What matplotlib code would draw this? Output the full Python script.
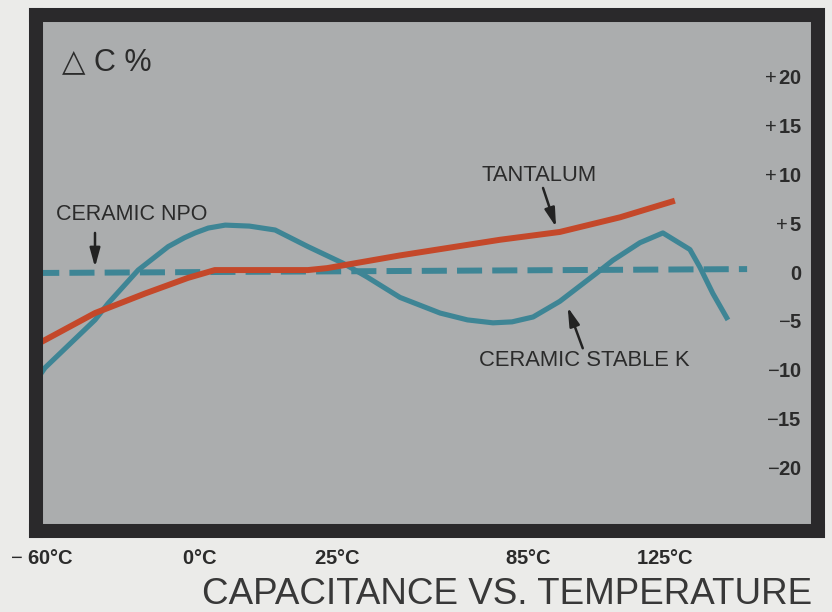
import numpy as np
import matplotlib
matplotlib.use("Agg")
import matplotlib.pyplot as plt

# ---------------- data ----------------
temp_ticks = [-60, 0, 25, 85, 125]
temp_labels = ["− $\\mathbf{60°C}$", "$\\mathbf{0°C}$", "$\\mathbf{25°C}$",
               "$\\mathbf{85°C}$", "$\\mathbf{125°C}$"]
pct_ticks = [20, 15, 10, 5, 0, -5, -10, -15, -20]
pct_labels = ["$+\\,\\mathbf{20}$", "$+\\,\\mathbf{15}$", "$+\\,\\mathbf{10}$",
              "$+\\,\\mathbf{5}$", "$\\mathbf{0}$", "−$\\mathbf{5}$", "−$\\mathbf{10}$",
              "−$\\mathbf{15}$", "−$\\mathbf{20}$"]

npo_t = [-63, 149]
npo_v = [-0.1, 0.3]

tant_t = [-64, -39.9, -20.9, -4.6, 2.7, 19.7, 23.2, 44.8, 76.2, 94.3, 111.9, 127.9]
tant_v = [-7.7, -4.2, -2.2, -0.6, 0.2, 0.2, 0.4, 1.7, 3.3, 4.1, 5.6, 7.3]

stk_t = [-61.5, -58.9, -39.9, -34.9, -23.5, -12.1, -6.0, -1.9, 1.5, 4.6, 9.0, 13.7,
         19.7, 26.9, 34.4, 44.8, 57.4, 66.0, 74.0, 80.0, 86.5, 94.3, 105.1, 109.8,
         117.7, 124.4, 132.3, 135.2, 139.0, 143.4]
stk_v = [-10.8, -9.8, -4.9, -3.2, 0.2, 2.6, 3.5, 4.0, 4.5, 4.8, 4.7, 4.3,
         2.6, 0.9, -0.5, -2.6, -4.2, -4.9, -5.2, -5.1, -4.6, -3.0, -0.1, 1.2,
         3.0, 4.0, 2.3, 0.5, -2.2, -4.9]

# piecewise temperature scale of the printed chart
scale_T = np.array([-300, -60, 0, 25, 85, 125, 400], dtype=float)
scale_P = np.array([42 - 240 * 2.633, 42, 200, 337, 528, 665, 665 + 275 * 3.425])

def fwd(t):
    return np.interp(t, scale_T, scale_P)

def inv(p):
    return np.interp(p, scale_P, scale_T)

# ---------------- style ----------------
BG = "#ebebe9"
PANEL = "#abadae"
FRAME = "#2a292b"
TEAL = "#3e8595"
RED = "#c4482a"
TXT = "#2b2b2b"
plt.rcParams['font.family'] = ['Liberation Sans', 'DejaVu Sans']
plt.rcParams['mathtext.fontset'] = 'custom'
plt.rcParams['mathtext.rm'] = 'Liberation Sans'
plt.rcParams['mathtext.bf'] = 'Liberation Sans:bold'
plt.rcParams['mathtext.it'] = 'Liberation Sans:italic'

W, H = 832, 612
fig = plt.figure(figsize=(W / 100, H / 100), dpi=100, facecolor=BG)
ax = fig.add_axes([35.5 / W, (H - 531) / H, 782.5 / W, 516 / H])
ax.set_facecolor(PANEL)
ax.set_xscale('function', functions=(fwd, inv))
ax.set_xlim(-62.5, 169.7)
ax.set_ylim(-26.5, 26.3)

for s in ax.spines.values():
    s.set_linewidth(10.1)
    s.set_color(FRAME)
    s.set_capstyle('projecting')

ax.plot(npo_t, npo_v, color=TEAL, lw=4.3, dashes=(4.2, 1.7),
        dash_capstyle='butt', zorder=1)
ax.plot(tant_t, tant_v, color=RED, lw=4.3, solid_capstyle='butt',
        solid_joinstyle='round', zorder=2)
ax.plot(stk_t, stk_v, color=TEAL, lw=3.7, solid_capstyle='butt',
        solid_joinstyle='round', zorder=1.5)

ax.set_xticks(temp_ticks)
ax.set_xticklabels(temp_labels)
ax.xaxis.set_minor_locator(matplotlib.ticker.NullLocator())
ax.tick_params(axis='x', length=0, pad=13, labelsize=14.5, labelcolor=TXT)

ax.set_yticks(pct_ticks)
ax.set_yticklabels(pct_labels)
ax.tick_params(axis='y', length=0, left=False, right=False, labelleft=False,
               labelright=True, pad=-11.5, labelsize=14.5, labelcolor=TXT)
for t in ax.yaxis.get_major_ticks():
    t.label2.set_horizontalalignment('right')

# labels
ax.text(0.034, 0.893, "△ C %", transform=ax.transAxes, fontsize=22,
        color=TXT, ha='left', va='baseline')

arrow = dict(arrowstyle='-|>,head_length=0.8,head_width=0.22', lw=1.8,
             color='#222222', shrinkA=0, shrinkB=0, mutation_scale=14)
ax.text(-25.8, 5.84, "CERAMIC NPO", fontsize=15.5, color=TXT, ha='center', va='center')
ax.annotate("", xy=(-39.9, 0.5), xytext=(-39.9, 4.0), arrowprops=arrow)

ax.text(88.2, 9.84, "TANTALUM", fontsize=15.8, color=TXT, ha='center', va='center')
ax.annotate("", xy=(93.2, 4.6), xytext=(89.4, 8.6), arrowprops=arrow)

ax.text(101.6, -9.1, "CERAMIC STABLE K", fontsize=15.8, color=TXT, ha='center', va='center')
ax.annotate("", xy=(96.6, -3.6), xytext=(101.0, -7.8), arrowprops=arrow)

fig.text(507 / W, (H - 604) / H, "CAPACITANCE VS. TEMPERATURE", fontsize=26.5,
         color='#383838', ha='center', va='baseline')

fig.savefig("out.png", dpi=100, facecolor=BG)
